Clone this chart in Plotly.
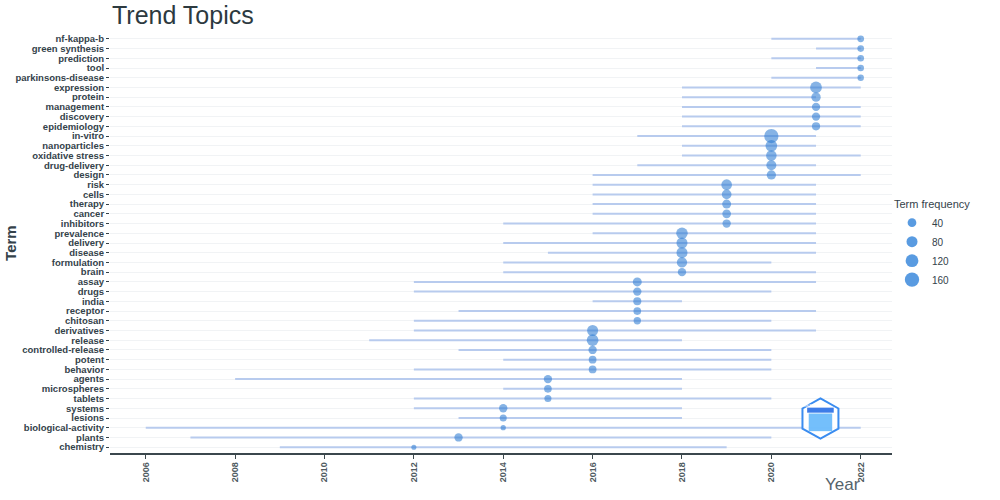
import plotly.graph_objects as go
import numpy as np

# terms from top to bottom, as shown in the chart
terms = [
    "nf-kappa-b", "green synthesis", "prediction", "tool", "parkinsons-disease",
    "expression", "protein", "management", "discovery", "epidemiology",
    "in-vitro", "nanoparticles", "oxidative stress", "drug-delivery", "design",
    "risk", "cells", "therapy", "cancer", "inhibitors",
    "prevalence", "delivery", "disease", "formulation", "brain",
    "assay", "drugs", "india", "receptor", "chitosan",
    "derivatives", "release", "controlled-release", "potent", "behavior",
    "agents", "microspheres", "tablets", "systems", "lesions",
    "biological-activity", "plants", "chemistry",
]

# first quartile year, median year, third quartile year
year_q1 = [
    2020, 2021, 2020, 2021, 2020,
    2018, 2018, 2018, 2018, 2018,
    2017, 2018, 2018, 2017, 2016,
    2016, 2016, 2016, 2016, 2014,
    2016, 2014, 2015, 2014, 2014,
    2012, 2012, 2016, 2013, 2012,
    2012, 2011, 2013, 2014, 2012,
    2008, 2014, 2012, 2012, 2013,
    2006, 2007, 2009,
]
year_med = [
    2022, 2022, 2022, 2022, 2022,
    2021, 2021, 2021, 2021, 2021,
    2020, 2020, 2020, 2020, 2020,
    2019, 2019, 2019, 2019, 2019,
    2018, 2018, 2018, 2018, 2018,
    2017, 2017, 2017, 2017, 2017,
    2016, 2016, 2016, 2016, 2016,
    2015, 2015, 2015, 2014, 2014,
    2014, 2013, 2012,
]
year_q3 = [
    2022, 2022, 2022, 2022, 2022,
    2022, 2021, 2022, 2022, 2022,
    2021, 2021, 2022, 2021, 2022,
    2021, 2021, 2021, 2021, 2021,
    2021, 2021, 2021, 2020, 2021,
    2021, 2020, 2018, 2021, 2020,
    2021, 2018, 2020, 2020, 2020,
    2018, 2018, 2020, 2018, 2018,
    2022, 2020, 2019,
]
term_freq = [
    17, 16, 16, 15, 14,
    94, 50, 34, 34, 33,
    160, 94, 70, 60, 49,
    73, 55, 44, 40, 35,
    90, 80, 80, 66, 35,
    44, 35, 31, 27, 23,
    80, 94, 35, 28, 28,
    35, 27, 20, 35, 20,
    6, 35, 5,
]

legend_freq = [40, 80, 120, 160]
year_ticks = [2006, 2008, 2010, 2012, 2014, 2016, 2018, 2020, 2022]

DOT_COL = "rgba(44,122,210,0.82)"
LINE_COL = "#b8cbee"
TEXT_COL = "#34424a"


def dot_size(f):
    # size scale similar to ggplot's area scaling
    return 3.1 + 0.886 * np.sqrt(f)


fig = go.Figure()

# quartile segments
seg_x, seg_y = [], []
for t, a, b in zip(terms, year_q1, year_q3):
    seg_x += [a, b, None]
    seg_y += [t, t, None]

fig.add_trace(go.Scatter(
    x=seg_x, y=seg_y,
    mode="lines",
    line=dict(color=LINE_COL, width=2),
    hoverinfo="skip",
    showlegend=False
))

fig.add_trace(go.Scatter(
    x=year_med, y=terms,
    mode="markers",
    marker=dict(color=DOT_COL, size=[dot_size(f) for f in term_freq], line=dict(width=0)),
    customdata=term_freq,
    hovertemplate="%{y}<br>Year: %{x}<br>Freq: %{customdata}<extra></extra>",
    showlegend=False
))

# legend entries for size
for f in legend_freq:
    fig.add_trace(go.Scatter(
        x=[None], y=[None],
        mode="markers",
        marker=dict(color="rgba(60,138,220,0.85)", size=dot_size(f)),
        name=str(f),
        showlegend=True
    ))

fig.update_layout(
    width=1000, height=500,
    margin=dict(l=110, r=108, t=33, b=47),
    plot_bgcolor="white",
    paper_bgcolor="white",
    font=dict(family="Liberation Sans, Arial", color=TEXT_COL),
    legend=dict(
        title=dict(text="Term frequency", font=dict(size=11, color=TEXT_COL)),
        x=1.0, xanchor="left", y=0.617, yanchor="top",
        itemsizing="trace",
        font=dict(size=10, color=TEXT_COL),
        tracegroupgap=0,
    ),
)

fig.update_xaxes(
    range=[2005.2, 2022.7],
    tickvals=year_ticks,
    ticktext=[f"<b>{y}</b>" for y in year_ticks],
    tickangle=-90,
    tickfont=dict(size=9, color="#4f5a61", family="Liberation Sans, Arial"),
    ticks="outside", ticklen=4, tickcolor="#3b474d",
    showgrid=False, zeroline=False,
    showline=True, linecolor="#3b474d", linewidth=1.5,
)

fig.update_yaxes(
    categoryorder="array",
    categoryarray=terms[::-1],
    range=[-0.6, len(terms) - 0.4],
    tickfont=dict(size=9.5, color=TEXT_COL, family="Liberation Sans, Arial"),
    ticks="outside", ticklen=3, tickcolor=TEXT_COL,
    showgrid=True, gridcolor="#f1f3f5", gridwidth=1,
    zeroline=False, showline=False,
)

# bold tick labels
fig.update_yaxes(ticktext=[f"<b>{t}</b>" for t in terms[::-1]], tickvals=terms[::-1])

fig.add_annotation(
    text="Trend Topics", xref="paper", yref="paper",
    x=0, y=1.0, xanchor="left", yanchor="bottom", yshift=2,
    showarrow=False, font=dict(size=25, color="#2d3a3f")
)
fig.add_annotation(
    text="<b>Term</b>", xref="paper", yref="paper",
    x=-0.128, y=0.5, textangle=-90, xanchor="center", yanchor="middle",
    showarrow=False, font=dict(size=15, color="#34424a")
)
fig.add_annotation(
    text="Year", xref="paper", yref="paper",
    x=0.962, y=-0.076, xanchor="right", yanchor="middle",
    showarrow=False, font=dict(size=17, color="#55636b")
)

# bibliometrix-style hexagon badge
cx, cy, w, h = 0.9085, 0.082, 0.023, 0.048
hex_path = (
    f"M {cx} {cy + h} L {cx + w} {cy + h / 2} L {cx + w} {cy - h / 2} "
    f"L {cx} {cy - h} L {cx - w} {cy - h / 2} L {cx - w} {cy + h / 2} Z"
)
fig.add_shape(type="path", path=hex_path, xref="paper", yref="paper",
              line=dict(color="#3a8cf0", width=2), fillcolor="rgba(255,255,255,0.9)")
fig.add_shape(type="rect", xref="paper", yref="paper",
              x0=cx - 0.015, x1=cx + 0.015, y0=cy - 0.03, y1=cy + 0.012,
              line=dict(width=0), fillcolor="rgba(70,170,250,0.75)")
fig.add_shape(type="rect", xref="paper", yref="paper",
              x0=cx - 0.017, x1=cx + 0.017, y0=cy + 0.014, y1=cy + 0.026,
              line=dict(width=0), fillcolor="rgba(40,110,230,0.9)")
fig.add_annotation(text="BIBLIOMETRIX", xref="paper", yref="paper", x=cx, y=cy + 0.02,
                   showarrow=False, font=dict(size=4, color="white"))

# drop the default page margin so the figure fills the window
fig.write_html("out.html", config={"displayModeBar": False},
               post_script="document.body.style.margin='0';")
